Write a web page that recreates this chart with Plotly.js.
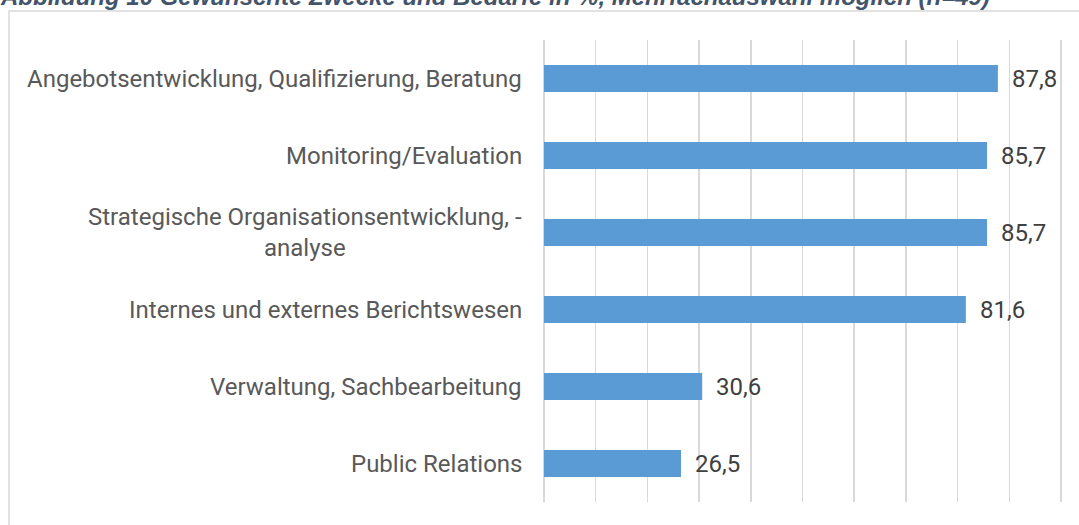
<!DOCTYPE html>
<html><head><meta charset="utf-8">
<script src="https://cdn.plot.ly/plotly-3.0.1.min.js"></script>
<style>html,body{margin:0;padding:0;background:#fff;}#chart{width:1079px;height:525px;}</style>
</head><body><div id="chart"></div>
<script>
const categories = [
  "Angebotsentwicklung, Qualifizierung, Beratung",
  "Monitoring/Evaluation",
  "Strategische Organisationsentwicklung, -<br>analyse",
  "Internes und externes Berichtswesen",
  "Verwaltung, Sachbearbeitung",
  "Public Relations"
];
const values = [87.8, 85.7, 85.7, 81.6, 30.6, 26.5];
const valueLabels = ["87,8", "85,7", "85,7", "81,6", "30,6", "26,5"];
const titleText = "Abbildung 10 Gewünschte Zwecke und Bedarfe in %, Mehrfachauswahl möglich (n=49)";

const catAnn = categories.map(c => ({
  text: c, xref: 'paper', x: 0, xanchor: 'right', xshift: -20,
  yref: 'y', y: c, yanchor: 'middle', align: 'center', showarrow: false,
  font: {family: 'Roboto', size: 24, color: '#595959'}
}));
const valAnn = categories.map((c, i) => ({
  text: valueLabels[i], xref: 'x', x: values[i], xanchor: 'left', xshift: 12,
  yref: 'y', y: c, yanchor: 'middle', showarrow: false,
  font: {family: 'Roboto', size: 24, color: '#404040'}
}));
const titleAnn = {
  text: '<b><i>' + titleText + '</i></b>', xref: 'paper', x: -1.055, xanchor: 'left',
  yref: 'paper', y: 1, yanchor: 'bottom', yshift: 28, showarrow: false,
  font: {family: 'Liberation Sans', size: 24, color: '#44546A'}
};

const W = 517, H = 462;
const px = v => (v - 544) / W;
const py = v => (502 - v) / H;

Plotly.newPlot('chart', [{
  type: 'bar', orientation: 'h', y: categories, x: values,
  marker: {color: '#5B9BD5'}, width: 0.35, hoverinfo: 'none'
}], {
  width: 1079, height: 525,
  margin: {l: 544, r: 17, t: 40, b: 23},
  paper_bgcolor: '#fff', plot_bgcolor: '#fff',
  showlegend: false,
  xaxis: {range: [0, 100.2], dtick: 10, tick0: 0, showgrid: true, gridcolor: '#D9D9D9', gridwidth: 1.5,
          showticklabels: false, zeroline: true, zerolinecolor: '#D9D9D9', zerolinewidth: 1.5, showline: false, fixedrange: true},
  yaxis: {autorange: 'reversed', showticklabels: false, showgrid: false, zeroline: false, showline: false, fixedrange: true},
  annotations: [titleAnn, ...catAnn, ...valAnn],
  shapes: [{type: 'rect', xref: 'paper', yref: 'paper', x0: px(10), x1: px(1090), y0: py(540), y1: py(11),
            line: {color: '#D9D9D9', width: 1.5}, fillcolor: 'rgba(0,0,0,0)', layer: 'below'}]
}, {displayModeBar: false, staticPlot: true});
</script></body></html>
